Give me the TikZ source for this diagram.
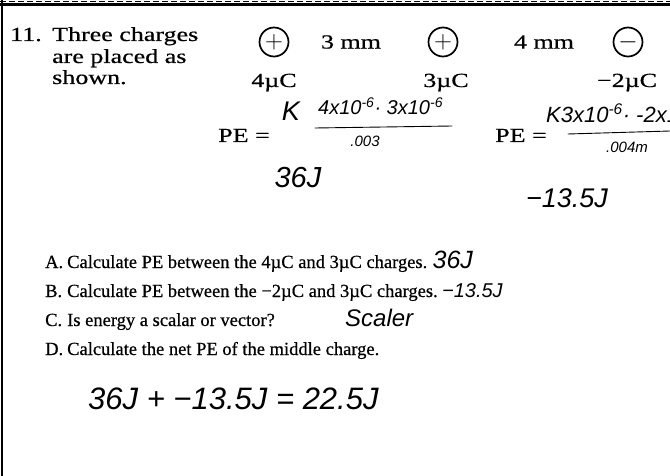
\documentclass[tikz,border=0pt]{standalone}
\usepackage{fontspec}
\setmainfont{Liberation Serif}
\newfontfamily\scanfont[FakeStretch=1.3,FakeBold=0.6]{Liberation Serif}
\newfontfamily\listfont[FakeBold=0.6]{Liberation Serif}
\newfontfamily\handfont{Liberation Sans}
\usetikzlibrary{positioning}

\tikzset{
  charge/.style={draw, circle, line width=1.7pt, minimum size=29pt, inner sep=0pt},
  printed/.style={font=\scanfont\fontsize{20}{21}\selectfont, inner sep=0pt},
  item/.style={font=\listfont\fontsize{18.5}{20}\selectfont, anchor=base west, inner sep=0pt},
  hand/.style={font=\handfont\itshape\fontsize{20}{22}\selectfont, inner sep=0pt},
  handline/.style={line width=0.9pt, line cap=round},
}

\begin{document}
\begin{tikzpicture}[x=1pt,y=-1pt]
\useasboundingbox (0,0) rectangle (670,476);

% Frame of the box
\draw[line width=3pt] (0,4.5) -- (670,4.5);
\draw[line width=0.6pt, dash pattern=on 6pt off 3pt] (0,1) -- (670,1);
\draw[line width=1.2pt] (2,0) -- (2,476);

% Question stem
\node[printed, anchor=base west] (num) at (10,41) {11.};
\node[printed, anchor=base west] (stemA) at (52,41) {Three charges};
\node[printed, anchor=base west] (stemB) at (52,63) {are placed as};
\node[printed, anchor=base west] (stemC) at (52,84) {shown.};

% Charges and spacings
\node[charge] (q1) at (274,42) {\fontsize{27}{27}\selectfont$+$};
\node[printed] (d1) at (351,42) {3 mm};
\node[charge] (q2) at (443,42) {\fontsize{27}{27}\selectfont$+$};
\node[printed] (d2) at (544,42) {4 mm};
\node[charge] (q3) at (628,42) {\fontsize{27}{27}\selectfont$-$};

\node[printed, anchor=base] (l1) at (274,87) {4µC};
\node[printed, anchor=base] (l2) at (446,87) {3µC};
\node[printed, anchor=base] (l3) at (627,87) {−2µC};

% PE working
\node[printed, anchor=base] (pe1) at (244,142) {PE =};
\node[printed, anchor=base] (pe2) at (521,142) {PE =};

\node[hand, font=\handfont\itshape\fontsize{27}{28}\selectfont] (k1) at (291,111) {K};
\node[hand, anchor=west] (num1) at (318,106) {4x10\textsuperscript{-6}· 3x10\textsuperscript{-6}};
\coordinate (f1a) at (315,128);
\coordinate (f1b) at (452,126);
\draw[handline] (f1a) -- (f1b);
\node[hand, font=\handfont\itshape\fontsize{15}{16}\selectfont] (den1) at (365,141) {.003};
\node[hand, font=\handfont\itshape\fontsize{29}{30}\selectfont] (ans1) at (298,178) {36J};

\node[hand, anchor=west, font=\handfont\itshape\fontsize{22}{24}\selectfont] (num2) at (546,113) {K3x10\textsuperscript{-6}· -2x10\textsuperscript{-6}};
\coordinate (f2a) at (568,134);
\coordinate (f2b) at (670,131);
\draw[handline] (f2a) -- (f2b);
\node[hand, font=\handfont\itshape\fontsize{15}{16}\selectfont] (den2) at (627,147) {.004m};
\node[hand, font=\handfont\itshape\fontsize{27}{28}\selectfont] (ans2) at (567,198) {−13.5J};

% Parts A to D
\node[item] (la) at (45,268) {A.};
\node[item] (ta) at (67,268) {Calculate PE between the 4µC and 3µC charges.};
\node[hand, anchor=base west, font=\handfont\itshape\fontsize{25}{26}\selectfont] (aa) at ([xshift=5pt]ta.base east) {36J};

\node[item] (lb) at (45,297) {B.};
\node[item] (tb) at (67,297) {Calculate PE between the −2µC and 3µC charges.};
\node[hand, anchor=base west] (ab) at ([xshift=4pt]tb.base east) {−13.5J};

\node[item] (lc) at (45,326) {C.};
\node[item] (tc) at (67,326) {Is energy a scalar or vector?};
\node[hand, anchor=base west, font=\handfont\itshape\fontsize{24}{26}\selectfont] (ac) at (345,326) {Scaler};

\node[item] (ld) at (45,355) {D.};
\node[item] (td) at (67,355) {Calculate the net PE of the middle charge.};

\node[hand, anchor=base west, font=\handfont\itshape\fontsize{31}{33}\selectfont] (net) at (88,409) {36J + −13.5J = 22.5J};
\end{tikzpicture}
\end{document}
